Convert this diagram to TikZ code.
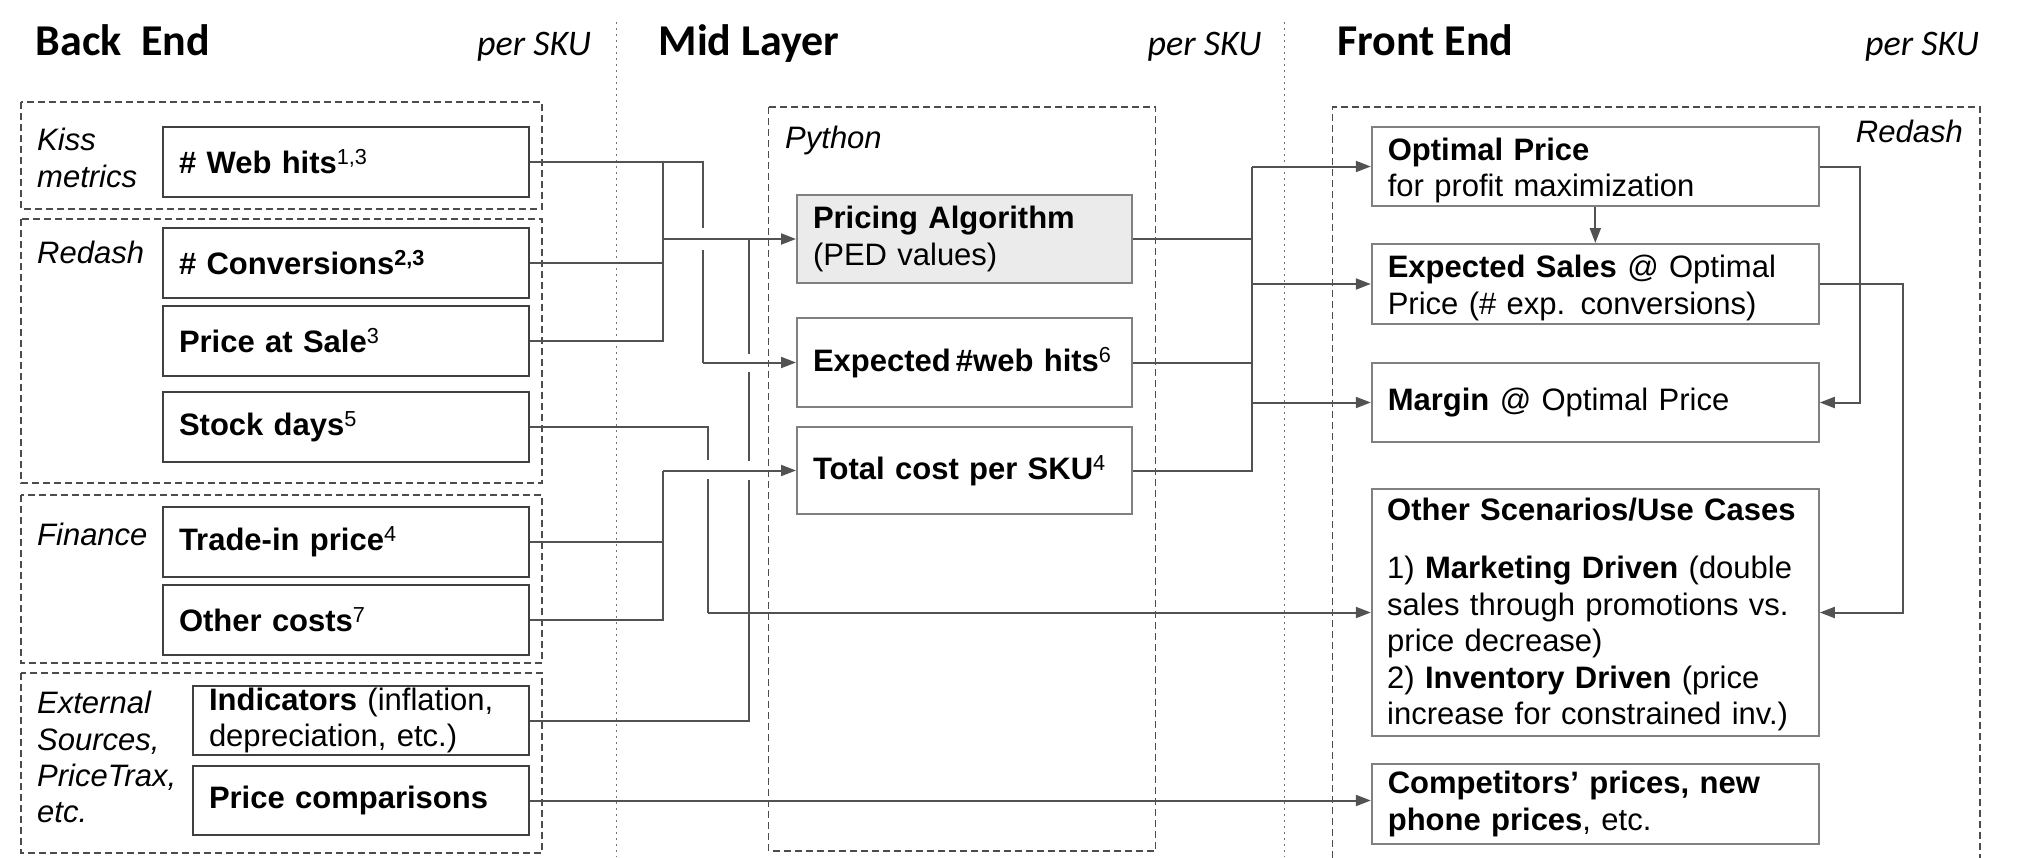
\documentclass[tikz,border=0pt]{standalone}
\usepackage{fontspec}
\setmainfont{Liberation Sans}
\newfontfamily\hdrfont{Carlito}
\usetikzlibrary{arrows.meta}
\begin{document}
\begin{tikzpicture}[x=1pt,y=-1pt,
  every node/.style={inner sep=0pt, font=\fontsize{31}{36.5}\selectfont},
  hdr/.style={font=\hdrfont\bfseries\fontsize{44}{50}\selectfont},
  perSKU/.style={font=\hdrfont\itshape\fontsize{36}{40}\selectfont},
  grp/.style={font=\itshape\fontsize{31}{36.5}\selectfont},
  lbox/.style={draw=black!75, line width=2pt, align=left, inner xsep=16pt, inner ysep=0pt, text width=334pt, minimum height=70pt},
  ibox/.style={lbox, text width=304pt, minimum height=69pt},
  mbox/.style={draw=black!50, line width=2pt, align=left, inner xsep=16pt, inner ysep=0pt, text width=303pt},
  fbox/.style={draw=black!50, line width=2pt, align=left, inner xsep=16pt, inner ysep=0pt, text width=415pt},
  frame/.style={draw=black!70, line width=1.8pt, dash pattern=on 7pt off 4pt},
  sep/.style={draw=black!55, line width=1.5pt, dash pattern=on 1.5pt off 4.5pt},
  conn/.style={draw=black!68, line width=2pt},
  arr/.style={conn, -{Triangle[length=15pt,width=11pt]}},
  gap/.style={draw=white, line width=6pt}
]
\useasboundingbox (0,0) rectangle (2023,857);

% column separators
\draw[sep] (616.5,22) -- (616.5,857);
\draw[sep] (1284.5,22) -- (1284.5,857);

% headers
\node[hdr, anchor=base west] (hBack) at (35.5,55) {Back~~End};
\node[perSKU, anchor=base east] (sku1) at (591,55) {per SKU};
\node[hdr, anchor=base west] (hMid) at (658.5,55) {Mid Layer};
\node[perSKU, anchor=base east] (sku2) at (1261.5,55) {per SKU};
\node[hdr, anchor=base west] (hFront) at (1337,55) {Front End};
\node[perSKU, anchor=base east] (sku3) at (1979,55) {per SKU};

% group frames
\draw[frame] (21,102) rectangle (542,209);
\draw[frame] (21,219) rectangle (542,483);
\draw[frame] (21,495) rectangle (542,663);
\draw[frame] (21,673) rectangle (542,853);
\draw[frame] (768.5,107) rectangle (1155.5,851);
\draw[frame] (1332.5,858) -- (1332.5,107) -- (1980,107) -- (1980,858);

% group labels
\node[grp, anchor=base west] (gKiss1) at (37,150) {Kiss};
\node[grp, anchor=base west] (gKiss2) at (37,187) {metrics};
\node[grp, anchor=base west] (gRedash) at (37,263) {Redash};
\node[grp, anchor=base west] (gFin) at (37,545) {Finance};
\node[grp, anchor=base west] (gExt1) at (37,713) {External};
\node[grp, anchor=base west] (gExt2) at (37,750) {Sources,};
\node[grp, anchor=base west] (gExt3) at (37,786) {PriceTrax,};
\node[grp, anchor=base west] (gExt4) at (37,822) {etc.};
\node[grp, anchor=base west] (gPy) at (785,148) {Python};
\node[grp, anchor=base east] (gRedash2) at (1963,142) {Redash};

% back end boxes
\node[lbox] (web) at (346,162) {\textbf{\# Web hits}\textsuperscript{1,3}};
\node[lbox] (conv) at (346,262.5) {\textbf{\# Conversions\textsuperscript{2,3}}};
\node[lbox] (pas) at (346,341) {\textbf{Price at Sale}\textsuperscript{3}};
\node[lbox] (stock) at (346,427) {\textbf{Stock days}\textsuperscript{5}};
\node[lbox] (trade) at (346,541.5) {\textbf{Trade-in price}\textsuperscript{4}};
\node[lbox] (other) at (346,619.5) {\textbf{Other costs}\textsuperscript{7}};
\node[ibox] (ind) at (361,720.5) {\textbf{Indicators} (inflation,\\depreciation, etc.)};
\node[ibox] (pcmp) at (361,800.5) {\textbf{Price comparisons}};

% mid layer boxes
\node[mbox, fill=black!8, minimum height=88pt] (pa) at (964.5,239) {\textbf{Pricing Algorithm}\\(PED values)};
\node[mbox, minimum height=89pt] (ewh) at (964.5,362.5) {\textbf{Expected\,\#web hits}\textsuperscript{6}};
\node[mbox, minimum height=87pt] (tc) at (964.5,470.5) {\textbf{Total cost per SKU}\textsuperscript{4}};

% front end boxes
\node[fbox, minimum height=79pt] (op) at (1595.3,166.5) {\rule{0pt}{30pt}\textbf{Optimal Price}\\for profit maximization};
\node[fbox, minimum height=80pt] (es) at (1595.3,284) {\rule{0pt}{30pt}\textbf{Expected Sales} @ Optimal\\Price (\# exp. conversions)};
\node[fbox, minimum height=79pt] (mg) at (1595.3,402.5) {\textbf{Margin} @ Optimal Price};
\node[fbox, minimum height=247pt] (os) at (1595.3,612.5) {};
\node[anchor=north west, align=left, text width=415pt] (ostxt) at (1387,498) {\textbf{Other Scenarios/Use Cases}\\[21.5pt]1) \textbf{Marketing Driven} (double\\sales through promotions vs.\\price decrease)\\2) \textbf{Inventory Driven} (price\\increase for constrained inv.)};
\node[fbox, minimum height=80pt] (comp) at (1595.3,804) {\textbf{Competitors’ prices, new}\\\textbf{phone prices}, etc.};

% routing columns
\coordinate (xa) at (663,0);
\coordinate (xb) at (703,0);
\coordinate (xc) at (708,0);
\coordinate (xd) at (749,0);
\coordinate (xe) at (1252,0);
\coordinate (xf) at (1860,0);
\coordinate (xg) at (1903,0);

% left connectors (pass 1)
\draw[conn] (web.east) -| (xb |- ewh.west);
\draw[conn] (conv.east) -- (conv.east -| xa);
\draw[conn] (pas.east) -| (xa |- web.east);
\draw[conn] (stock.east) -| (xc |- os.west);
\draw[arr] (xc |- os.west) -- (os.west);
\draw[conn] (trade.east) -- (trade.east -| xa);
\draw[conn] (other.east) -| (xa |- tc.west);
\draw[conn] (ind.east) -| (xd |- pa.west);
\draw[arr] (pcmp.east) -- (comp.west |- pcmp.east);

% line jumps
\draw[gap] (703,228) -- (703,250);
\draw[gap] (749,354) -- (749,372);
\draw[gap] (749,461) -- (749,480);
\draw[gap] (708,460) -- (708,479);

% horizontals on top
\draw[arr] (xa |- pa.west) -- (pa.west);
\draw[arr] (xb |- ewh.west) -- (ewh.west);
\draw[arr] (xa |- tc.west) -- (tc.west);

% right connectors
\draw[conn] (pa.east) -- (pa.east -| xe);
\draw[conn] (ewh.east) -- (ewh.east -| xe);
\draw[conn] (tc.east) -| (xe |- op.west);
\draw[arr] (xe |- op.west) -- (op.west);
\draw[arr] (xe |- es.west) -- (es.west);
\draw[arr] (xe |- mg.west) -- (mg.west);
\draw[arr] (op.south) -- (es.north);
\draw[arr] (op.east) -| (xf |- mg.east) -- (mg.east);
\draw[arr] (es.east) -| (xg |- os.east) -- (os.east);
\end{tikzpicture}
\end{document}
